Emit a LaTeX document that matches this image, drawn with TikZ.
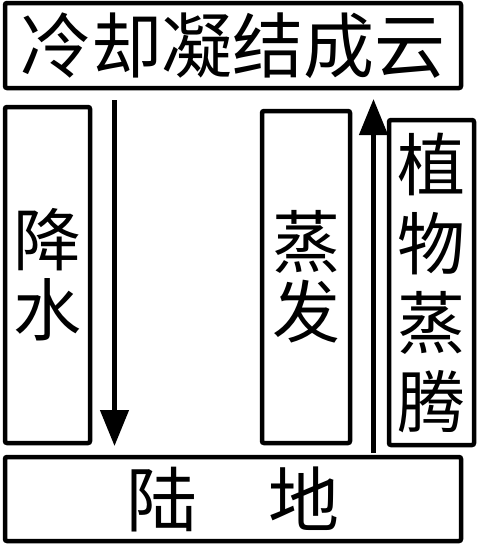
\documentclass[tikz,border=0pt]{standalone}
\usepackage{fontspec}
\newfontfamily\cjk{Noto Sans CJK SC}
\usetikzlibrary{positioning, arrows.meta}

\begin{document}
\begin{tikzpicture}[
  x=1pt, y=-1pt,
  box/.style={draw, line width=4.5pt, rounded corners=2pt, inner sep=0pt,
              align=center, font=\cjk\fontsize{71}{71}\selectfont},
  tall/.style={box, font=\cjk\fontsize{68}{70}\selectfont},
  arrow/.style={-{Triangle[width=28pt,length=36pt]}, line width=4.5pt}
]
  \useasboundingbox (0,0) rectangle (481,547);
  \node[box, minimum width=456pt, minimum height=85pt] (cloud) at (233,45.5) {冷却凝结成云};
  \node[box, minimum width=456pt, minimum height=84pt] (land) at (233,499) {陆　地};
  \node[tall, minimum width=85pt, minimum height=336pt] (rain) at (47.5,275) {降\\水};
  \node[tall, minimum width=88pt, minimum height=332pt] (evap) at (306,277) {蒸\\发};
  \node[box, minimum width=85pt, minimum height=325pt,
        font=\cjk\fontsize{68}{79}\selectfont] (plant) at (431.5,282.5) {植\\物\\蒸\\腾};
  \coordinate (raintop) at (114.5,100);
  \coordinate (rainend) at (114.5,446);
  \coordinate (vapstart) at (373.5,453);
  \coordinate (vapend) at (373.5,99);
  \draw[arrow] (raintop) -- (rainend);
  \draw[arrow] (vapstart) -- (vapend);
\end{tikzpicture}
\end{document}
